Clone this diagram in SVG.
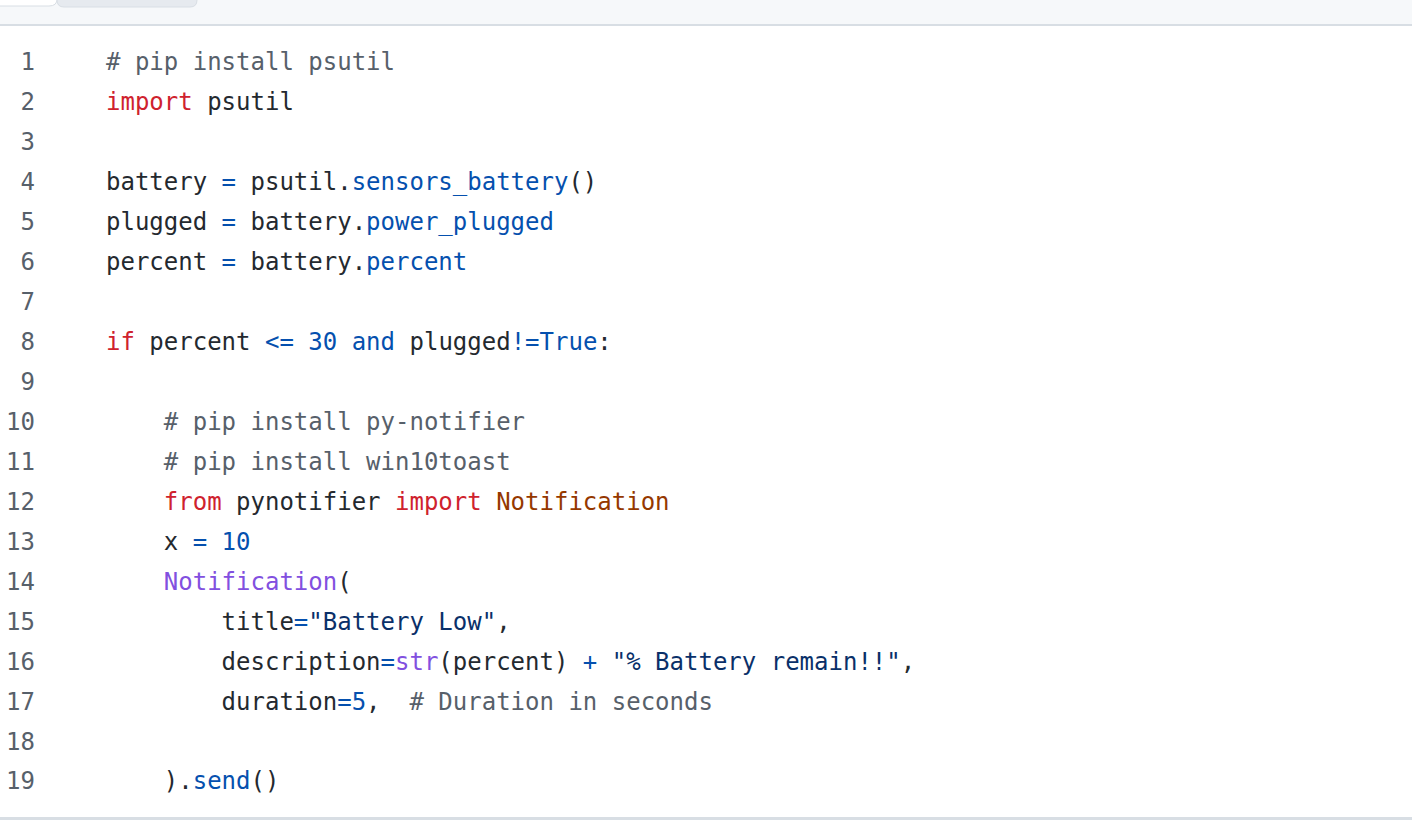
<svg xmlns="http://www.w3.org/2000/svg" width="1412" height="820" viewBox="0 0 1412 820">
<style>
.code{font-family:"DejaVu Sans Mono","Liberation Mono",monospace;font-size:24px;fill:#24292f;white-space:pre}
.ln{font-family:"DejaVu Sans Mono","Liberation Mono",monospace;font-size:24px;fill:#57606a;text-anchor:end}
.c{fill:#57606a}.k{fill:#cf222e}.b{fill:#0550ae}.s{fill:#0a3069}.f{fill:#8250df}.e{fill:#953800}
</style>
<rect x="0" y="0" width="1412" height="820" fill="#ffffff"/>
<g id="header">
<rect x="0" y="0" width="1412" height="25" fill="#f6f8fa"/>
<path d="M57,-1 L57,0 Q57,7 64,7 L190,7 Q197,7 197,0 L197,-1 Z" fill="#e6eaef" stroke="#d8dee4" stroke-width="1"/>
<path d="M-1,-1 L-1,6 L49,6 Q57,6 57,-1 Z" fill="#ffffff" stroke="#d8dee4" stroke-width="1"/>
<rect x="0" y="24" width="1412" height="2" fill="#d8dee4"/>
</g>
<g id="line-numbers">
<text class="ln" x="35" y="70">1</text>
<text class="ln" x="35" y="110">2</text>
<text class="ln" x="35" y="150">3</text>
<text class="ln" x="35" y="190">4</text>
<text class="ln" x="35" y="230">5</text>
<text class="ln" x="35" y="270">6</text>
<text class="ln" x="35" y="310">7</text>
<text class="ln" x="35" y="350">8</text>
<text class="ln" x="35" y="390">9</text>
<text class="ln" x="35" y="430">10</text>
<text class="ln" x="35" y="470">11</text>
<text class="ln" x="35" y="510">12</text>
<text class="ln" x="35" y="550">13</text>
<text class="ln" x="35" y="590">14</text>
<text class="ln" x="35" y="630">15</text>
<text class="ln" x="35" y="670">16</text>
<text class="ln" x="35" y="710">17</text>
<text class="ln" x="35" y="750">18</text>
<text class="ln" x="35" y="789">19</text>
</g>
<g id="code" xml:space="preserve">
<text class="code" x="106" y="70"><tspan class="c"># pip install psutil</tspan></text>
<text class="code" x="106" y="110"><tspan class="k">import</tspan> psutil</text>
<text class="code" x="106" y="190">battery <tspan class="b">=</tspan> psutil.<tspan class="b">sensors_battery</tspan>()</text>
<text class="code" x="106" y="230">plugged <tspan class="b">=</tspan> battery.<tspan class="b">power_plugged</tspan></text>
<text class="code" x="106" y="270">percent <tspan class="b">=</tspan> battery.<tspan class="b">percent</tspan></text>
<text class="code" x="106" y="350"><tspan class="k">if</tspan> percent <tspan class="b">&lt;=</tspan> <tspan class="b">30</tspan> <tspan class="b">and</tspan> plugged<tspan class="b">!=</tspan><tspan class="b">True</tspan>:</text>
<text class="code" x="106" y="430">    <tspan class="c"># pip install py-notifier</tspan></text>
<text class="code" x="106" y="470">    <tspan class="c"># pip install win10toast</tspan></text>
<text class="code" x="106" y="510">    <tspan class="k">from</tspan> pynotifier <tspan class="k">import</tspan> <tspan class="e">Notification</tspan></text>
<text class="code" x="106" y="550">    x <tspan class="b">=</tspan> <tspan class="b">10</tspan></text>
<text class="code" x="106" y="590">    <tspan class="f">Notification</tspan>(</text>
<text class="code" x="106" y="630">        title<tspan class="b">=</tspan><tspan class="s">"Battery Low"</tspan>,</text>
<text class="code" x="106" y="670">        description<tspan class="b">=</tspan><tspan class="f">str</tspan>(percent) <tspan class="b">+</tspan> <tspan class="s">"% Battery remain!!"</tspan>,</text>
<text class="code" x="106" y="710">        duration<tspan class="b">=</tspan><tspan class="b">5</tspan>,  <tspan class="c"># Duration in seconds</tspan></text>
<text class="code" x="106" y="789">    ).<tspan class="b">send</tspan>()</text>
</g>
<rect id="footer-line" x="0" y="817" width="1412" height="3" fill="#d8dee4"/>
</svg>
